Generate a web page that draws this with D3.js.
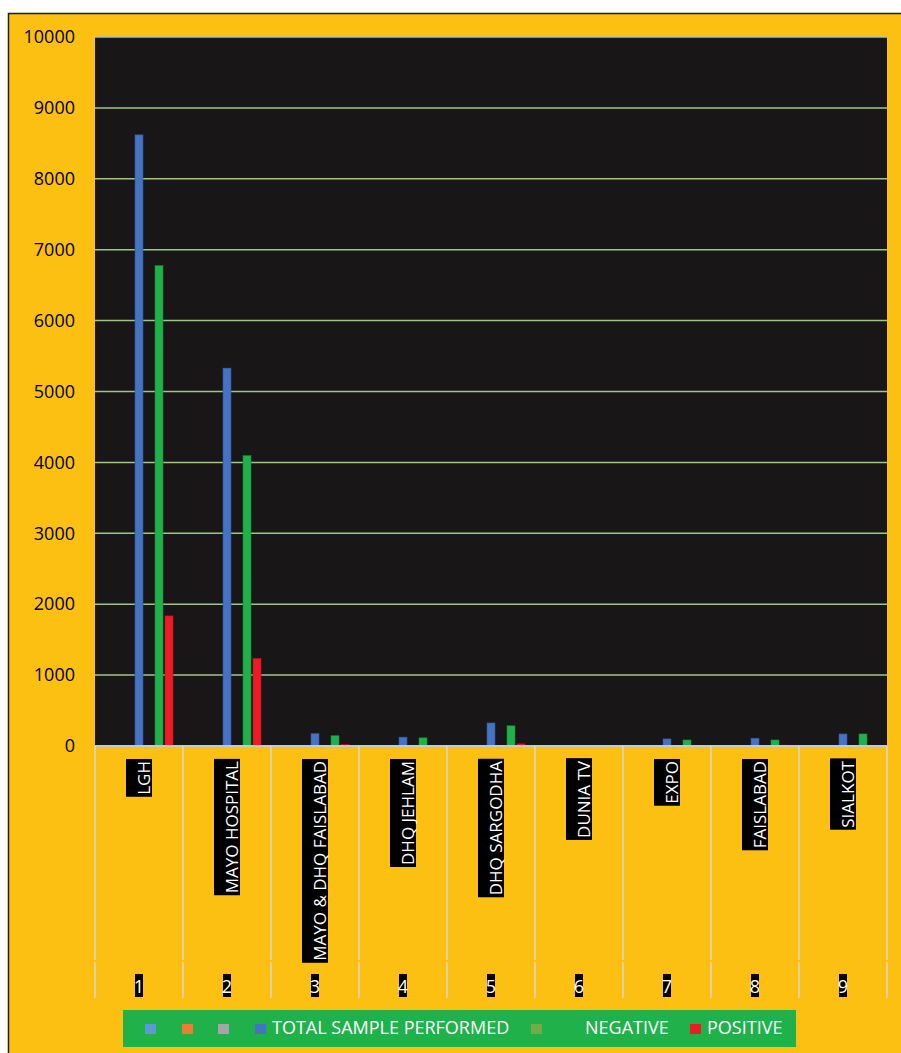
<!DOCTYPE html>
<html><head><meta charset="utf-8">
<script src="https://cdn.jsdelivr.net/npm/d3@7"></script>
<style>html,body{margin:0;padding:0;background:#fff}svg{display:block}</style>
</head><body>
<script>
// ---- data ----
const categories = ["LGH","MAYO HOSPITAL","MAYO & DHQ FAISLABAD","DHQ JEHLAM","DHQ SARGODHA","DUNIA TV","EXPO","FAISLABAD","SIALKOT"];
const categoryNumbers = ["1","2","3","4","5","6","7","8","9"];
const seriesKeys = ["s1","s2","s3","total","s5","negative","positive"];
const seriesNames = ["","","","TOTAL SAMPLE PERFORMED","","NEGATIVE","POSITIVE"];
const totalSample = [8620,5330,175,125,325,10,100,110,170];
const negative    = [6775,4095,145,115,285,8,85,85,170];
const positive    = [1835,1235,20,5,30,2,3,12,2];
const yTicks = [0,1000,2000,3000,4000,5000,6000,7000,8000,9000,10000];

const seriesColors = {s1:"#5B9BD5",s2:"#ED7D31",s3:"#A5A5A5",total:"#4472C4",s5:"#70AD47",negative:"#21B14B",positive:"#ED1C24"};
const seriesData = {total: totalSample, negative: negative, positive: positive};

const W = 901, H = 1053;
const svg = d3.select("body").append("svg").attr("width",W).attr("height",H);
const font = "'Open Sans', sans-serif";

// outer frame
svg.append("rect").attr("x",8.5).attr("y",13.5).attr("width",W).attr("height",H)
  .attr("fill","#FCC013").attr("stroke","#231f20").attr("stroke-width",1.5);

const plot = {l:95, r:887, t:37, b:746};
const x0 = d3.scaleBand().domain(categories).range([plot.l, plot.r]).padding(0);
const x1 = d3.scaleBand().domain(seriesKeys).range([8, 80]).padding(0.2);
const y = d3.scaleLinear().domain([0,10000]).range([plot.b, plot.t]);

// plot background
svg.append("rect").attr("x",plot.l).attr("y",plot.t).attr("width",plot.r-plot.l).attr("height",plot.b-plot.t)
  .attr("fill","#181617");

// gridlines
svg.append("g").selectAll("line").data(yTicks.filter(d=>d>0)).join("line")
  .attr("x1",plot.l).attr("x2",plot.r).attr("y1",d=>y(d)).attr("y2",d=>y(d))
  .attr("stroke",d=>d===10000?"#9cc9b4":"#9fc784").attr("stroke-width",1.5);

// y axis labels
const yAxis = d3.axisLeft(y).tickValues(yTicks).tickSize(0).tickPadding(20).tickFormat(d3.format("d"));
const gy = svg.append("g").attr("transform",`translate(${plot.l},0)`).call(yAxis);
gy.select(".domain").remove();
gy.selectAll("text").attr("font-family",font).attr("font-size",18).attr("fill","#000");

// bars
const gBars = svg.append("g");
["total","negative","positive"].forEach(k=>{
  gBars.append("g").selectAll("rect").data(seriesData[k].map((v,i)=>({c:categories[i],v}))).join("rect")
    .attr("x",d=>x0(d.c)+x1(k)).attr("width",x1.bandwidth())
    .attr("y",d=>y(d.v)).attr("height",d=>y(0)-y(d.v))
    .attr("fill",seriesColors[k])
    .attr("stroke",d3.color(seriesColors[k]).darker(0.8)).attr("stroke-width",0.6);
});

// baseline
svg.append("line").attr("x1",plot.l).attr("x2",plot.r).attr("y1",plot.b).attr("y2",plot.b)
  .attr("stroke","#c8c8c8").attr("stroke-width",2);

// category dividers (two-level axis)
const bounds = categories.map(c=>x0(c)).concat([plot.r]);
const gDiv = svg.append("g").attr("stroke","#d9d9d9").attr("stroke-width",1.5);
bounds.forEach(bx=>{
  gDiv.append("line").attr("x1",bx).attr("x2",bx).attr("y1",plot.b).attr("y2",960);
  gDiv.append("line").attr("x1",bx).attr("x2",bx).attr("y1",962).attr("y2",998);
});

// category labels (rotated, black box)
const cx = c => x0(c) + x0.bandwidth()/2;
categories.forEach(c=>{
  const g = svg.append("g").attr("transform",`translate(${cx(c)+11},761) rotate(-90)`);
  const r = g.append("rect").attr("fill","#000");
  const t = g.append("text").attr("text-anchor","end").attr("font-family",font).attr("font-size",17)
    .attr("fill","#fff").text(c);
  const bb = t.node().getBBox();
  r.attr("x",bb.x-2).attr("y",-24).attr("width",bb.width+4).attr("height",26);
});

// numbers
categories.forEach((c,i)=>{
  const g = svg.append("g");
  const r = g.append("rect").attr("fill","#000");
  const t = g.append("text").attr("x",cx(c)).attr("y",993).attr("text-anchor","middle")
    .attr("font-family",font).attr("font-size",18).attr("fill","#fff").text(categoryNumbers[i]);
  const bb = t.node().getBBox();
  r.attr("x",cx(c)-4).attr("y",974).attr("width",8).attr("height",23);
});

// legend
svg.append("rect").attr("x",123).attr("y",1010).attr("width",673).attr("height",37).attr("fill","#21B14B");
const legendX = [145,182,218,255,531,585,690];
const legendTextOffset = {total:17, negative:0, positive:17};
seriesKeys.forEach((k,i)=>{
  if (k !== "negative") {
    svg.append("rect").attr("x",legendX[i]).attr("y",1024).attr("width",11).attr("height",10)
      .attr("fill",seriesColors[k]);
  }
  if (seriesNames[i]) {
    svg.append("text").attr("x",legendX[i]+legendTextOffset[k]).attr("y",1034)
      .attr("font-family",font).attr("font-size",18).attr("fill","#fff").text(seriesNames[i]);
  }
});
</script>
</body></html>
